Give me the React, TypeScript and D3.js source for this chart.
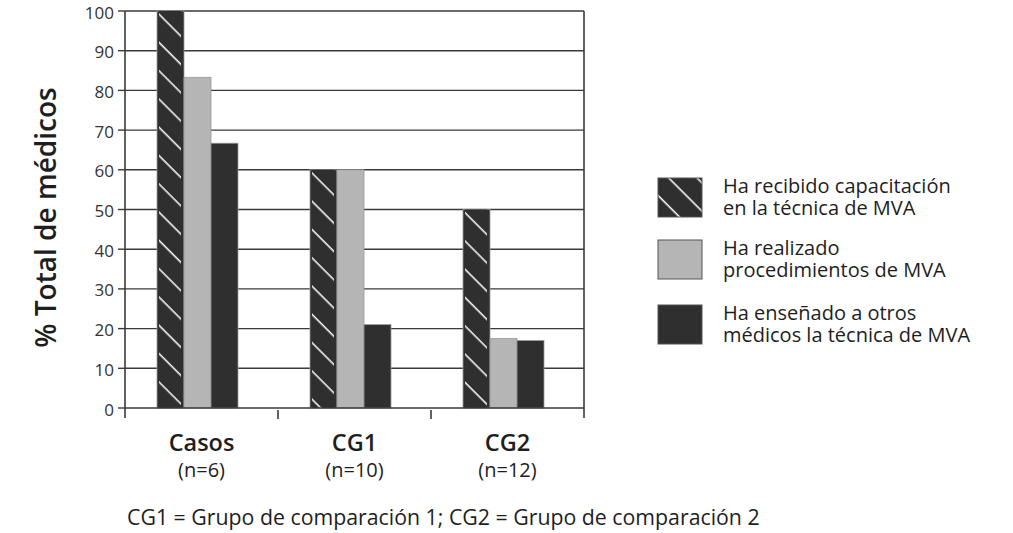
import React from "react";
import * as d3 from "d3";

const categories = ["Casos", "CG1", "CG2"];
const categorySubs = ["(n=6)", "(n=10)", "(n=12)"];
const seriesKeys = ["capacitacion", "procedimientos", "ensenado"];
const capacitacion = [100, 60, 50];
const procedimientos = [83.3, 60, 17.5];
const ensenado = [66.7, 21, 17];
const legendLines = [
  ["Ha recibido capacitación", "en la técnica de MVA"],
  ["Ha realizado", "procedimientos de MVA"],
  ["Ha enseñado a otros", "médicos la técnica de MVA"],
];
const yTicks = [0, 10, 20, 30, 40, 50, 60, 70, 80, 90, 100];
const yLabel = "% Total de médicos";
const footnote = "CG1 = Grupo de comparación 1; CG2 = Grupo de comparación 2";

const seriesValues = [capacitacion, procedimientos, ensenado];

const W = 1013;
const H = 533;
const left = 125;
const right = 584;
const top = 11;
const bottom = 408;
const FONT = "'Open Sans', 'Noto Sans', sans-serif";
const DARK = "#2f2f2f";
const GRAY = "#b5b5b5";
const GRID = "#3a3a3a";
const TEXT = "#1e1e1e";

export default function App() {
  const y = d3.scaleLinear().domain([0, 100]).range([bottom, top]);
  const x0 = d3.scaleBand<string>().domain(categories).range([left, right]);
  const groupW = 81;
  const x1 = d3.scaleBand<string>().domain(seriesKeys).range([0, groupW]);
  const barW = x1.bandwidth();
  const groupOffset = 32;

  const fills = ["hatch", GRAY, DARK];

  const bars: any[] = [];
  categories.forEach((c, ci) => {
    seriesKeys.forEach((k, si) => {
      const v = seriesValues[si][ci];
      const bx = (x0(c) as number) + groupOffset + (x1(k) as number);
      const by = y(v);
      bars.push({ key: `${c}-${k}`, x: bx, y: by, w: barW, h: bottom - by, si });
    });
  });

  const legendX = 658;
  const legendBoxW = 44;
  const legendBoxH = 39;
  const legendYs = [178, 240, 305];

  return (
    <svg
      width={W}
      height={H}
      style={{ position: "absolute", left: 0, top: 0, background: "#fff" }}
      fontFamily={FONT}
    >
      <defs>
        {bars
          .filter((b) => b.si === 0)
          .map((b) => (
            <pattern
              key={b.key}
              id={`hatch-${b.key}`}
              patternUnits="userSpaceOnUse"
              width={20}
              height={20}
              patternTransform={`translate(${b.x + 2},${b.y + 2}) rotate(45)`}
            >
              <rect width={20} height={20} fill={DARK} />
              <line x1={0} x2={20} y1={0.5} y2={0.5} stroke="#f2f2f2" strokeWidth={2.2} />
            </pattern>
          ))}
        <pattern
          id="hatch-legend"
          patternUnits="userSpaceOnUse"
          width={20}
          height={20}
          patternTransform={`translate(${legendX + 2},${legendYs[0] - 10}) rotate(45)`}
        >
          <rect width={20} height={20} fill={DARK} />
          <line x1={0} x2={20} y1={0.5} y2={0.5} stroke="#f2f2f2" strokeWidth={2.2} />
        </pattern>
      </defs>

      {/* grid lines */}
      {yTicks
        .filter((t) => t > 0)
        .map((t) => (
          <line key={t} x1={left} x2={right} y1={y(t)} y2={y(t)} stroke={GRID} strokeWidth={1.4} />
        ))}

      {/* bars */}
      {bars.map((b) =>
        b.si === 0 ? (
          <g key={b.key}>
            <rect x={b.x} y={b.y} width={b.w} height={b.h} fill={DARK} stroke="#9a9a9a" strokeWidth={0.8} />
            <rect x={b.x + 2} y={b.y} width={b.w - 5} height={b.h} fill={`url(#hatch-${b.key})`} />
          </g>
        ) : (
          <rect
            key={b.key}
            x={b.x}
            y={b.y}
            width={b.w}
            height={b.h}
            fill={fills[b.si]}
            stroke="#9a9a9a"
            strokeWidth={0.8}
          />
        )
      )}

      {/* axes */}
      <line x1={left} x2={left} y1={top} y2={bottom + 10} stroke={GRID} strokeWidth={1.6} />
      <line x1={right} x2={right} y1={top} y2={bottom + 10} stroke={GRID} strokeWidth={1.6} />
      <line x1={left} x2={right} y1={bottom} y2={bottom} stroke={GRID} strokeWidth={1.6} />
      {categories.slice(1).map((c) => (
        <line
          key={c}
          x1={x0(c) as number}
          x2={x0(c) as number}
          y1={bottom + 2}
          y2={bottom + 11}
          stroke={GRID}
          strokeWidth={1.6}
        />
      ))}
      {yTicks.map((t) => (
        <g key={t}>
          <line x1={left - 7} x2={left} y1={y(t)} y2={y(t)} stroke={GRID} strokeWidth={1.4} />
          <text x={left - 11} y={y(t) + 7.5} textAnchor="end" fontSize={17} fill="#333">
            {t}
          </text>
        </g>
      ))}

      {/* y label */}
      <text
        transform={`translate(56,${(top + bottom) / 2 + 8}) rotate(-90)`}
        textAnchor="middle"
        fontSize={28}
        fontWeight={600}
        fill={TEXT}
      >
        {yLabel}
      </text>

      {/* category labels */}
      {categories.map((c, i) => {
        const cx = (x0(c) as number) + x0.bandwidth() / 2;
        return (
          <g key={c}>
            <text x={cx} y={451} textAnchor="middle" fontSize={23.5} fontWeight={600} fill={TEXT}>
              {c}
            </text>
            <text x={cx} y={477} textAnchor="middle" fontSize={20} fill={TEXT}>
              {categorySubs[i]}
            </text>
          </g>
        );
      })}

      {/* legend */}
      {legendLines.map((lines, i) => (
        <g key={i}>
          <rect
            x={legendX}
            y={legendYs[i]}
            width={legendBoxW}
            height={legendBoxH}
            fill={i === 0 ? "url(#hatch-legend)" : i === 1 ? GRAY : DARK}
            stroke="#555"
            strokeWidth={1}
          />
          <text x={723} y={legendYs[i] + 15} fontSize={20} fill={TEXT}>
            {lines.map((s, j) => (
              <tspan key={j} x={723} dy={j === 0 ? 0 : 22}>
                {s}
              </tspan>
            ))}
          </text>
        </g>
      ))}

      {/* footnote */}
      <text x={127} y={525} fontSize={21.3} fill={TEXT}>
        {footnote}
      </text>
    </svg>
  );
}
